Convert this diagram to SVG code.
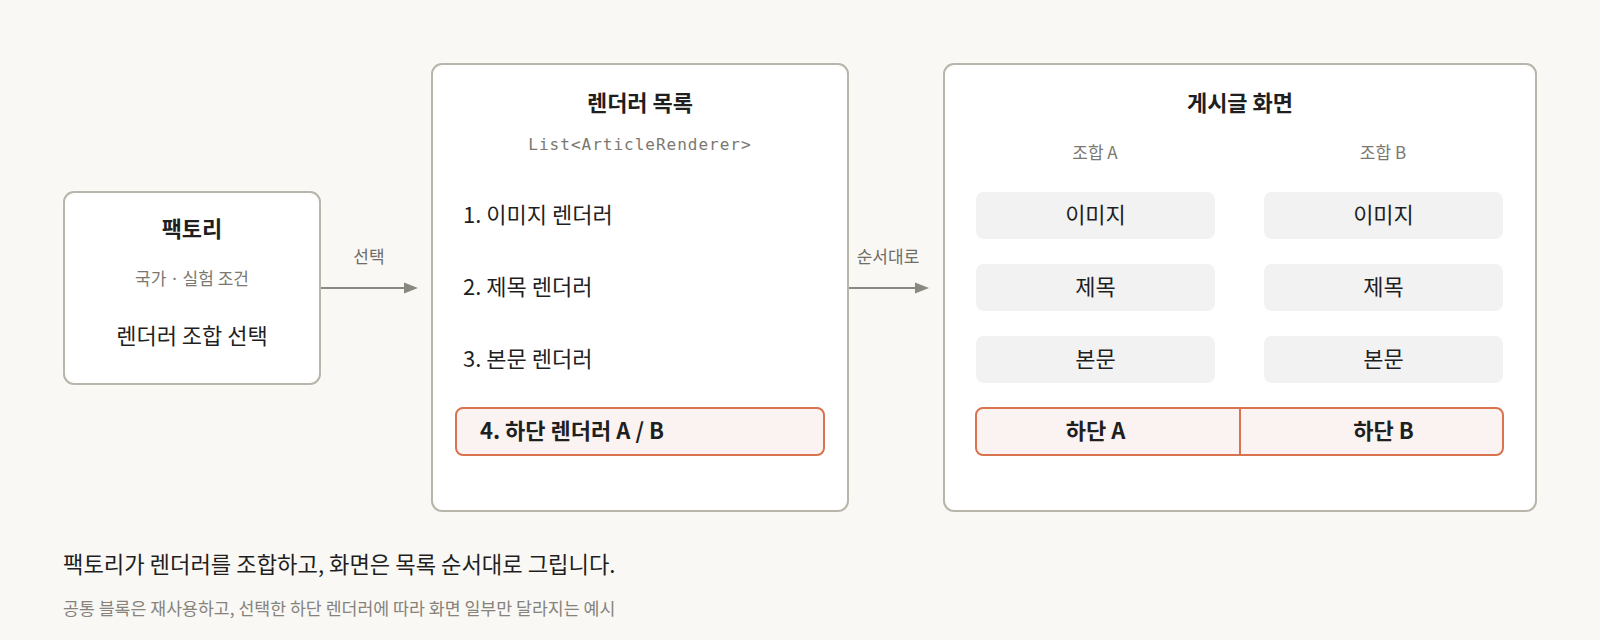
<svg xmlns="http://www.w3.org/2000/svg" width="1600" height="640" viewBox="0 0 1600 640">
<defs>
<style>
text{font-family:"Noto Sans CJK KR","Noto Sans",sans-serif;fill:#1f1f1f}
.box{fill:#ffffff;stroke:#b8b5ab;stroke-width:2}
.title{font-size:22px;font-weight:700;text-anchor:middle}
.sub{font-size:17px;fill:#7a7870;text-anchor:middle}
.item{font-size:22px}
.cell{fill:#f2f2f2}
.ctext{font-size:22px;text-anchor:middle}
.hl{fill:#fbf3f1;stroke:#d9734f;stroke-width:2}
.hltext{font-size:22px;font-weight:700}
.mono{font-family:"DejaVu Sans Mono","Liberation Mono",monospace;font-size:16px;letter-spacing:1px;fill:#7a7870;text-anchor:middle}
.conn{stroke:#8a8880;stroke-width:2;fill:none}
.head{fill:#8a8880}
.clabel{font-size:17px;fill:#6f6d66;text-anchor:middle}
.dot{font-family:"Noto Sans",sans-serif}
</style>
</defs>
<rect width="1600" height="640" fill="#f9f8f5"/>

<g id="connectors">
<line class="conn" x1="321" y1="288" x2="406" y2="288"/>
<path class="head" d="M404,282.5 L418,288 L404,293.5 z"/>
<text class="clabel" x="369" y="263">선택</text>
<line class="conn" x1="849" y1="288" x2="917" y2="288"/>
<path class="head" d="M915,282.5 L929,288 L915,293.5 z"/>
<text class="clabel" x="888" y="263">순서대로</text>
</g>

<g id="factory">
<rect class="box" x="64" y="192" width="256" height="192" rx="10"/>
<text class="title" x="192" y="237">팩토리</text>
<text class="sub" x="192" y="285">국가 <tspan class="dot" dx="2">·</tspan><tspan dx="2"> 실험 조건</tspan></text>
<text class="ctext" x="192" y="344">렌더러 조합 선택</text>
</g>

<g id="renderer-list">
<rect class="box" x="432" y="64" width="416" height="447" rx="10"/>
<text class="title" x="640" y="111">렌더러 목록</text>
<text class="mono" x="640" y="150">List&lt;ArticleRenderer&gt;</text>
<text class="item" x="463" y="223">1. 이미지 렌더러</text>
<text class="item" x="463" y="295">2. 제목 렌더러</text>
<text class="item" x="463" y="367">3. 본문 렌더러</text>
<g id="footer-renderer">
<rect class="hl" x="456" y="408" width="368" height="47" rx="7"/>
<text class="hltext" x="480" y="439">4. 하단 렌더러 A / B</text>
</g>
</g>

<g id="screen">
<rect class="box" x="944" y="64" width="592" height="447" rx="10"/>
<text class="title" x="1240" y="111">게시글 화면</text>
<text class="sub" x="1095" y="159">조합 A</text>
<text class="sub" x="1383" y="159">조합 B</text>
<g id="a-image"><rect class="cell" x="976" y="192" width="239" height="47" rx="8"/><text class="ctext" x="1095.5" y="223">이미지</text></g>
<g id="b-image"><rect class="cell" x="1264" y="192" width="239" height="47" rx="8"/><text class="ctext" x="1383.5" y="223">이미지</text></g>
<g id="a-title"><rect class="cell" x="976" y="264" width="239" height="47" rx="8"/><text class="ctext" x="1095.5" y="295">제목</text></g>
<g id="b-title"><rect class="cell" x="1264" y="264" width="239" height="47" rx="8"/><text class="ctext" x="1383.5" y="295">제목</text></g>
<g id="a-body"><rect class="cell" x="976" y="336" width="239" height="47" rx="8"/><text class="ctext" x="1095.5" y="367">본문</text></g>
<g id="b-body"><rect class="cell" x="1264" y="336" width="239" height="47" rx="8"/><text class="ctext" x="1383.5" y="367">본문</text></g>
<g id="footer-ab">
<rect class="hl" x="976" y="408" width="527" height="47" rx="7"/>
<line x1="1240" y1="408" x2="1240" y2="455" stroke="#d9734f" stroke-width="2"/>
<text class="hltext" x="1095.5" y="439" text-anchor="middle">하단 A</text>
<text class="hltext" x="1383.5" y="439" text-anchor="middle">하단 B</text>
</g>
</g>

<text x="63" y="573" style="font-size:22.2px">팩토리가 렌더러를 조합하고, 화면은 목록 순서대로 그립니다.</text>
<text x="63" y="615" style="font-size:17.3px;fill:#85837c">공통 블록은 재사용하고, 선택한 하단 렌더러에 따라 화면 일부만 달라지는 예시</text>
</svg>
